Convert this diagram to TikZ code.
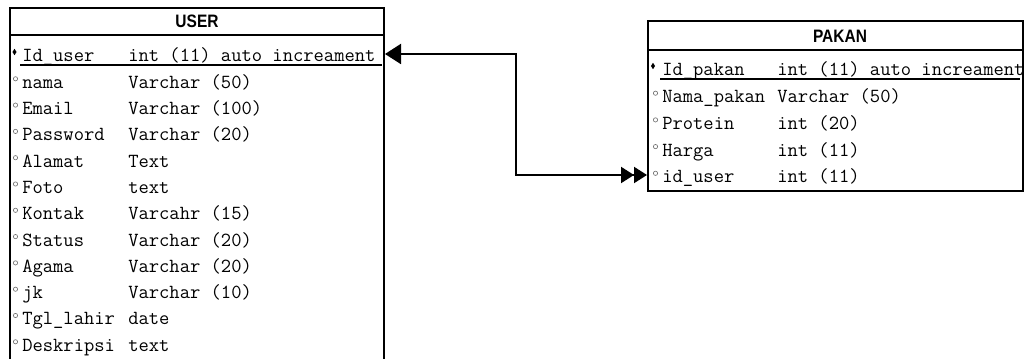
\documentclass[tikz,border=0pt]{standalone}
\usepackage{fontspec}
\setsansfont{Liberation Sans}
\usetikzlibrary{arrows.meta,calc,shapes.geometric}
\begin{document}
\begin{tikzpicture}[x=0.75pt,y=-0.75pt,
  boxline/.style={line width=1.5pt},
  tbl/.style={draw, line width=1.5pt, inner sep=0pt, anchor=north west},
  ttl/.style={font=\sffamily\bfseries\fontsize{13.5pt}{15pt}\selectfont, inner sep=0pt},
  cell/.style={font=\ttfamily\fontsize{15pt}{18pt}\selectfont, inner sep=0pt, anchor=base west, text=black},
  pkmark/.style={diamond, fill=black, inner sep=0pt, minimum width=3.2pt, minimum height=5pt},
  atmark/.style={circle, draw=black!55, line width=0.5pt, inner sep=0pt, minimum size=3.2pt},
  uline/.style={line width=1.1pt, black},
  conn/.style={line width=1.5pt}
]
\useasboundingbox (0,0) rectangle (1024,359);
% USER table
\node[tbl, minimum width=280.5pt, minimum height=268.5pt] (user) at (9,7) {};
\draw[boxline] (user.west |- 0,35) -- (user.east |- 0,35);
\node[ttl] (usertitle) at (197,21.5) {\scalebox{0.86}[1]{USER}};
\node[cell] (un0) at (22,62) {Id\_user};
\node[cell] (ut0) at (128,62) {int (11) auto increament};
\node[pkmark] (um0) at (14.5,52) {};
\draw[uline] (20,65) -- (382,65);
\foreach \n/\t [count=\i] in {nama/Varchar (50), Email/Varchar (100), Password/Varchar (20), Alamat/Text, Foto/text, Kontak/Varcahr (15), Status/Varchar (20), Agama/Varchar (20), jk/Varchar (10), Tgl\_lahir/date, Deskripsi/text}{
  \node[cell] (un\i) at (22,{62+26.3*\i}) {\n};
  \node[cell] (ut\i) at (128,{62+26.3*\i}) {\t};
  \node[atmark] (um\i) at (15.5,{52.5+26.3*\i}) {};
}
% PAKAN table
\node[tbl, minimum width=281.25pt, minimum height=127.5pt] (pakan) at (647,20) {};
\draw[boxline] (pakan.west |- 0,50) -- (pakan.east |- 0,50);
\node[ttl] (pakantitle) at (840,36) {\scalebox{0.86}[1]{PAKAN}};
\node[cell] (pn0) at (662,76) {Id\_pakan};
\node[cell] (pt0) at (777,76) {int (11) auto increament};
\node[pkmark] (pm0) at (653,66) {};
\draw[uline] (660,79) -- (1020,79);
\foreach \n/\t [count=\i] in {Nama\_pakan/Varchar (50), Protein/int (20), Harga/int (11), id\_user/int (11)}{
  \node[cell] (pn\i) at (662,{76+26.7*\i}) {\n};
  \node[cell] (pt\i) at (777,{76+26.7*\i}) {\t};
  \node[atmark] (pm\i) at (655.5,{66.5+26.7*\i}) {};
}
% connector
\coordinate (ukey) at (383,54);
\coordinate (pfk) at (647,175);
\draw[conn, {Triangle[length=12pt,width=15pt]}-{Triangle[length=9.75pt,width=12pt,sep=0pt]Triangle[length=9.75pt,width=12pt,sep=0pt]}]
  (user.east |- ukey) -| ($(user.east |- ukey)!0.5!(pakan.west |- pfk)$) |- (pakan.west |- pfk);
\end{tikzpicture}
\end{document}
